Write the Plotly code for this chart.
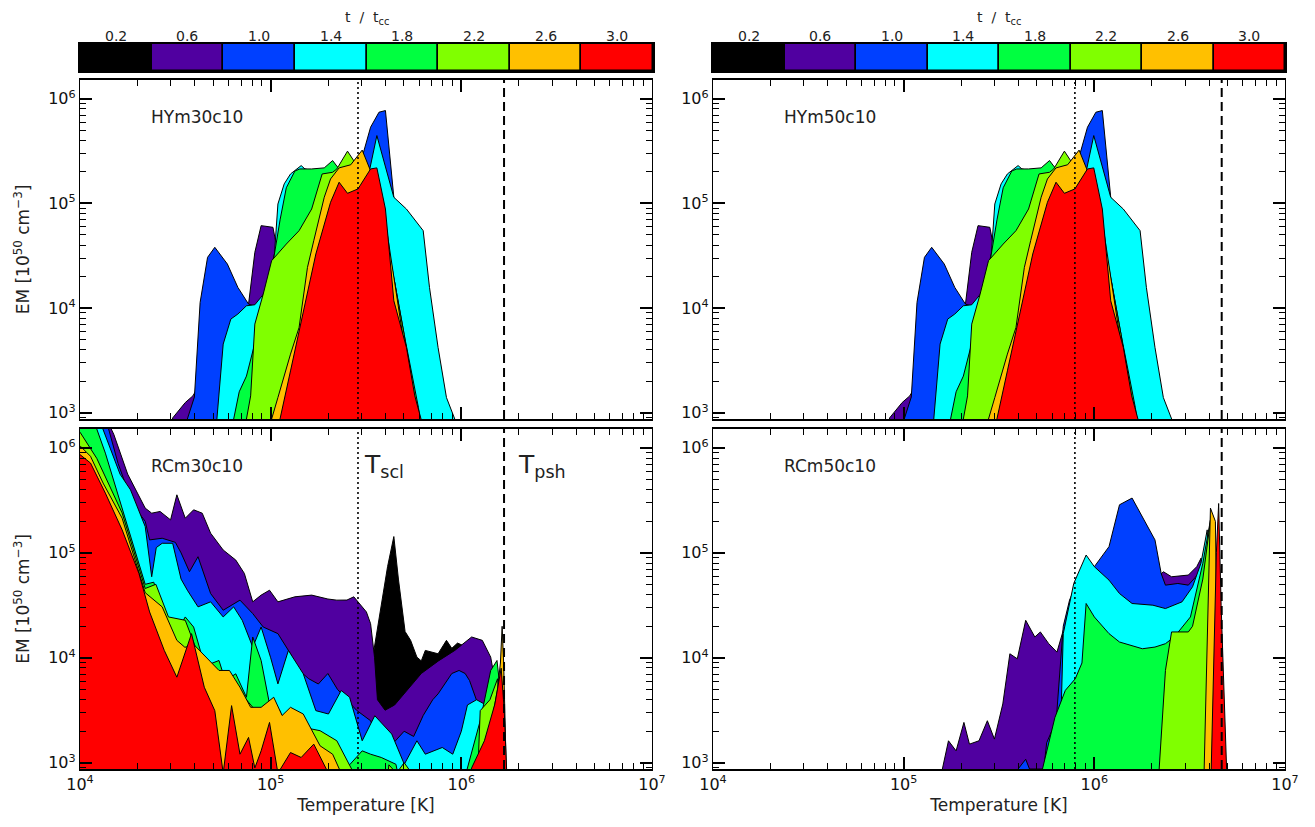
import plotly.graph_objects as go

FONT = "DejaVu Sans"
COLORS = ["#000000", "#5000A0", "#0040FF", "#00FFFF", "#00FF40", "#80FF00", "#FFC000", "#FF0000"]
CB_LABELS = ["0.2", "0.6", "1.0", "1.4", "1.8", "2.2", "2.6", "3.0"]
X_TICKS = [1e4, 1e5, 1e6, 1e7]
X_TICKTEXT = ["10<sup>4</sup>", "10<sup>5</sup>", "10<sup>6</sup>", "10<sup>7</sup>"]
Y_TICKS = [1e3, 1e4, 1e5, 1e6]
Y_TICKTEXT = ["10<sup>3</sup>", "10<sup>4</sup>", "10<sup>5</sup>", "10<sup>6</sup>"]

# characteristic temperatures (log10 K)
HY30_TSCL, HY30_TPSH = 5.458, 6.224
HY50_TSCL, HY50_TPSH = 5.898, 6.668

# ---------------- HYm30c10 : log10 T , log10 EM ----------------
HY30_T_06 = [4.47, 4.486, 4.552, 4.592, 4.70, 4.80, 4.884, 4.917, 4.950, 5.012, 5.03, 5.10, 5.20, 5.40, 5.55, 5.65, 5.75]
HY30_EM_06 = [2.6, 2.95, 3.097, 3.161, 3.5, 3.8, 4.038, 4.533, 4.788, 4.772, 4.6, 5.0, 5.15, 5.25, 4.95, 4.0, 2.6]
HY30_T_10 = [4.55, 4.563, 4.600, 4.630, 4.669, 4.707, 4.773, 4.828, 4.884, 4.95, 5.10, 5.30, 5.45, 5.48, 5.524, 5.568, 5.602, 5.646, 5.75, 5.85, 5.90]
HY30_EM_10 = [2.6, 2.94, 3.15, 4.054, 4.485, 4.581, 4.421, 4.198, 4.038, 4.0, 4.5, 5.0, 5.25, 5.45, 5.729, 5.872, 5.888, 5.059, 4.65, 3.7, 2.6]
HY30_T_14 = [4.70, 4.718, 4.751, 4.791, 4.828, 4.873, 4.917, 4.97, 5.02, 5.038, 5.071, 5.104, 5.160, 5.18, 5.30, 5.45, 5.52, 5.557, 5.646, 5.712, 5.800, 5.833, 5.878, 5.922, 5.966, 5.98]
HY30_EM_14 = [2.6, 2.94, 3.656, 3.895, 3.943, 4.022, 4.032, 4.15, 4.52, 4.995, 5.187, 5.282, 5.362, 5.33, 5.28, 5.25, 5.33, 5.649, 5.059, 4.947, 4.740, 4.198, 3.624, 3.145, 2.938, 2.6]
HY30_T_18 = [4.79, 4.806, 4.835, 4.873, 4.95, 5.0, 5.05, 5.082, 5.127, 5.153, 5.215, 5.281, 5.325, 5.35, 5.45, 5.55, 5.65, 5.70, 5.775, 5.81]
HY30_EM_18 = [2.6, 2.94, 3.2, 3.35, 3.9, 4.3, 4.85, 5.15, 5.31, 5.33, 5.33, 5.34, 5.41, 5.35, 5.25, 4.95, 4.25, 3.75, 3.05, 2.6]
HY30_T_22 = [4.86, 4.873, 4.895, 4.917, 4.961, 5.005, 5.082, 5.149, 5.215, 5.270, 5.325, 5.347, 5.403, 5.447, 5.50, 5.60, 5.70, 5.76, 5.79]
HY30_EM_22 = [2.6, 2.94, 3.161, 3.847, 4.134, 4.453, 4.612, 4.740, 4.947, 5.282, 5.298, 5.33, 5.50, 5.378, 5.15, 4.75, 3.75, 3.05, 2.6]
HY30_T_26 = [4.99, 5.005, 5.038, 5.104, 5.149, 5.193, 5.226, 5.281, 5.314, 5.359, 5.42, 5.48, 5.52, 5.60, 5.70, 5.77, 5.79]
HY30_EM_26 = [2.6, 2.94, 3.145, 3.560, 3.815, 4.389, 4.644, 5.059, 5.234, 5.34, 5.37, 5.51, 5.33, 4.85, 3.65, 2.95, 2.6]
HY30_T_30 = [5.03, 5.049, 5.104, 5.171, 5.237, 5.314, 5.359, 5.403, 5.458, 5.524, 5.557, 5.602, 5.646, 5.712, 5.756, 5.789, 5.80]
HY30_EM_30 = [2.6, 2.94, 3.400, 3.974, 4.517, 5.011, 5.203, 5.097, 5.139, 5.33, 5.34, 4.947, 4.070, 3.624, 3.161, 2.938, 2.6]

# ---------------- HYm50c10 ----------------
HY50_T_06 = [4.91, 4.926, 4.992, 5.032, 5.14, 5.24, 5.324, 5.357, 5.39, 5.452, 5.47, 5.54, 5.64, 5.84, 5.99, 6.09, 6.19]
HY50_EM_06 = [2.6, 2.95, 3.097, 3.161, 3.5, 3.8, 4.038, 4.533, 4.788, 4.772, 4.6, 5.0, 5.15, 5.25, 4.95, 4.0, 2.6]
HY50_T_10 = [4.99, 5.003, 5.04, 5.07, 5.109, 5.147, 5.213, 5.268, 5.324, 5.39, 5.54, 5.74, 5.89, 5.92, 5.964, 6.008, 6.042, 6.086, 6.19, 6.29, 6.34]
HY50_EM_10 = [2.6, 2.94, 3.15, 4.054, 4.485, 4.581, 4.421, 4.198, 4.038, 4.0, 4.5, 5.0, 5.25, 5.45, 5.729, 5.872, 5.888, 5.059, 4.65, 3.7, 2.6]
HY50_T_14 = [5.14, 5.158, 5.191, 5.231, 5.268, 5.313, 5.357, 5.41, 5.46, 5.478, 5.511, 5.544, 5.60, 5.62, 5.74, 5.89, 5.96, 5.997, 6.086, 6.152, 6.24, 6.273, 6.318, 6.362, 6.406, 6.42]
HY50_EM_14 = [2.6, 2.94, 3.656, 3.895, 3.943, 4.022, 4.032, 4.15, 4.52, 4.995, 5.187, 5.282, 5.362, 5.33, 5.28, 5.25, 5.33, 5.649, 5.059, 4.947, 4.740, 4.198, 3.624, 3.145, 2.938, 2.6]
HY50_T_18 = [5.23, 5.246, 5.275, 5.313, 5.39, 5.44, 5.49, 5.522, 5.567, 5.593, 5.655, 5.721, 5.765, 5.79, 5.89, 5.99, 6.09, 6.14, 6.215, 6.25]
HY50_EM_18 = [2.6, 2.94, 3.2, 3.35, 3.9, 4.3, 4.85, 5.15, 5.31, 5.33, 5.33, 5.34, 5.41, 5.35, 5.25, 4.95, 4.25, 3.75, 3.05, 2.6]
HY50_T_22 = [5.30, 5.313, 5.335, 5.357, 5.401, 5.445, 5.522, 5.589, 5.655, 5.71, 5.765, 5.787, 5.843, 5.887, 5.94, 6.04, 6.14, 6.20, 6.23]
HY50_EM_22 = [2.6, 2.94, 3.161, 3.847, 4.134, 4.453, 4.612, 4.740, 4.947, 5.282, 5.298, 5.33, 5.50, 5.378, 5.15, 4.75, 3.75, 3.05, 2.6]
HY50_T_26 = [5.43, 5.445, 5.478, 5.544, 5.589, 5.633, 5.666, 5.721, 5.754, 5.799, 5.86, 5.92, 5.96, 6.04, 6.14, 6.21, 6.23]
HY50_EM_26 = [2.6, 2.94, 3.145, 3.560, 3.815, 4.389, 4.644, 5.059, 5.234, 5.34, 5.37, 5.51, 5.33, 4.85, 3.65, 2.95, 2.6]
HY50_T_30 = [5.47, 5.489, 5.544, 5.611, 5.677, 5.754, 5.799, 5.843, 5.898, 5.964, 5.997, 6.042, 6.086, 6.152, 6.196, 6.229, 6.24]
HY50_EM_30 = [2.6, 2.94, 3.400, 3.974, 4.517, 5.011, 5.203, 5.097, 5.139, 5.33, 5.34, 4.947, 4.070, 3.624, 3.161, 2.938, 2.6]

# ---------------- RCm30c10 ----------------
RC30_T_02 = [5.45, 5.50, 5.542, 5.58, 5.613, 5.646, 5.67, 5.705, 5.734, 5.767, 5.79, 5.811, 5.85, 5.878, 5.922, 5.95, 5.98, 6.03, 6.10, 6.20, 6.24]
RC30_EM_02 = [2.6, 3.5, 4.077, 4.5, 4.868, 5.155, 4.75, 4.25, 4.166, 4.006, 3.97, 4.070, 4.05, 4.038, 4.166, 4.09, 4.14, 4.10, 3.5, 3.0, 2.6]
RC30_T_06 = [4.0, 4.177, 4.25, 4.342, 4.376, 4.420, 4.475, 4.508, 4.552, 4.596, 4.641, 4.685, 4.751, 4.817, 4.862, 4.906, 4.950, 4.994, 5.038, 5.127, 5.215, 5.30, 5.347, 5.40, 5.436, 5.502, 5.524, 5.545, 5.56, 5.60, 5.65, 5.70, 5.79, 5.88, 5.966, 6.054, 6.110, 6.154, 6.176, 6.20, 6.22]
RC30_EM_06 = [6.8, 6.13, 5.75, 5.426, 5.378, 5.394, 5.314, 5.553, 5.330, 5.410, 5.378, 5.187, 5.027, 4.931, 4.804, 4.533, 4.597, 4.644, 4.533, 4.581, 4.597, 4.56, 4.549, 4.55, 4.581, 4.437, 4.325, 4.0, 3.6, 3.5, 3.55, 3.66, 3.85, 3.97, 4.07, 4.198, 4.166, 4.006, 3.783, 3.3, 2.6]
RC30_T_10 = [4.0, 4.15, 4.20, 4.28, 4.342, 4.365, 4.431, 4.50, 4.530, 4.574, 4.619, 4.685, 4.751, 4.839, 4.906, 4.961, 5.038, 5.104, 5.149, 5.20, 5.25, 5.30, 5.35, 5.40, 5.45, 5.524, 5.56, 5.60, 5.65, 5.70, 5.75, 5.80, 5.85, 5.878, 5.95, 5.988, 6.02, 6.043, 6.08, 6.099, 6.15, 6.20, 6.22]
RC30_EM_10 = [6.6, 6.18, 5.85, 5.45, 5.30, 5.123, 5.139, 5.10, 5.0, 4.820, 4.963, 4.612, 4.453, 4.549, 4.421, 4.293, 4.230, 4.038, 3.879, 3.80, 3.75, 3.85, 3.70, 3.60, 3.5, 3.400, 3.25, 3.32, 3.2, 3.30, 3.25, 3.45, 3.60, 3.656, 3.85, 3.879, 3.85, 3.783, 3.6, 3.496, 3.4, 3.0, 2.6]
RC30_T_14 = [4.0, 4.12, 4.21, 4.265, 4.342, 4.376, 4.400, 4.431, 4.486, 4.530, 4.563, 4.619, 4.685, 4.751, 4.806, 4.851, 4.906, 4.950, 5.0, 5.038, 5.093, 5.171, 5.237, 5.303, 5.37, 5.414, 5.480, 5.546, 5.635, 5.701, 5.767, 5.811, 5.900, 5.955, 6.0, 6.032, 6.08, 6.13, 6.17, 6.20, 6.22]
RC30_EM_14 = [6.5, 6.18, 5.75, 5.60, 5.25, 4.772, 5.05, 5.091, 5.091, 4.75, 4.644, 4.485, 4.533, 4.389, 4.485, 4.357, 4.102, 4.293, 4.0, 3.751, 4.070, 3.847, 3.496, 3.464, 3.688, 3.624, 3.209, 3.448, 3.273, 2.985, 3.209, 3.081, 3.145, 3.081, 3.3, 3.55, 3.60, 3.55, 3.4, 3.0, 2.6]
RC30_T_18 = [4.0, 4.088, 4.133, 4.221, 4.31, 4.342, 4.387, 4.442, 4.508, 4.552, 4.596, 4.641, 4.685, 4.729, 4.762, 4.817, 4.873, 4.906, 4.950, 4.994, 5.049, 5.082, 5.127, 5.193, 5.259, 5.347, 5.414, 5.480, 5.524, 5.58, 5.657, 5.70, 5.98, 6.032, 6.099, 6.154, 6.187, 6.21, 6.23]
RC30_EM_18 = [6.4, 6.18, 5.95, 5.42, 4.9, 4.70, 4.72, 4.357, 4.25, 4.389, 4.293, 4.006, 3.943, 3.974, 3.783, 3.847, 3.624, 4.198, 3.974, 3.560, 3.496, 3.305, 3.400, 3.209, 3.129, 3.049, 2.98, 3.113, 3.081, 3.05, 2.985, 2.6, 2.6, 2.95, 3.40, 3.879, 3.974, 3.6, 2.6]
RC30_T_22 = [4.0, 4.088, 4.221, 4.342, 4.398, 4.464, 4.552, 4.619, 4.707, 4.784, 4.862, 4.906, 4.994, 5.082, 5.171, 5.259, 5.347, 5.392, 5.436, 5.46, 5.60, 5.62, 5.66, 5.70, 5.74, 5.76, 6.08, 6.099, 6.15, 6.19, 6.22, 6.24]
RC30_EM_22 = [6.15, 5.9, 5.38, 4.66, 4.70, 4.389, 4.357, 4.038, 3.911, 3.719, 3.624, 3.528, 3.40, 3.464, 3.337, 3.305, 3.209, 3.049, 2.9, 2.6, 2.6, 2.98, 2.9, 3.0, 2.9, 2.6, 2.6, 3.496, 3.6, 3.8, 3.2, 2.6]
RC30_T_26 = [4.0, 4.055, 4.121, 4.221, 4.342, 4.431, 4.508, 4.55, 4.60, 4.663, 4.729, 4.784, 4.839, 4.895, 4.95, 5.016, 5.06, 5.104, 5.171, 5.259, 5.325, 5.37, 5.40, 6.12, 6.16, 6.19, 6.205, 6.214, 6.222, 6.24]
RC30_EM_26 = [6.02, 5.92, 5.665, 5.33, 4.62, 4.485, 4.166, 4.10, 4.12, 4.006, 3.879, 3.879, 3.719, 3.528, 3.528, 3.624, 3.45, 3.528, 3.464, 3.161, 3.081, 2.9, 2.6, 2.6, 3.4, 3.7, 3.95, 4.30, 3.95, 2.6]
RC30_T_30 = [4.0, 4.055, 4.133, 4.221, 4.309, 4.365, 4.442, 4.508, 4.585, 4.652, 4.707, 4.751, 4.795, 4.839, 4.884, 4.917, 4.950, 4.994, 5.038, 5.104, 5.16, 5.226, 5.303, 5.32, 6.03, 6.054, 6.121, 6.176, 6.209, 6.225, 6.245]
RC30_EM_30 = [5.936, 5.856, 5.569, 5.219, 4.804, 4.437, 4.070, 3.815, 4.230, 3.719, 3.496, 2.90, 3.544, 3.081, 3.241, 2.95, 3.113, 3.384, 2.90, 3.097, 3.05, 3.177, 2.90, 2.6, 2.6, 2.95, 3.209, 3.560, 3.90, 3.5, 2.6]

# ---------------- RCm50c10 ----------------
RC50_T_06 = [5.19, 5.203, 5.235, 5.275, 5.316, 5.345, 5.395, 5.439, 5.476, 5.520, 5.557, 5.596, 5.640, 5.688, 5.717, 5.761, 5.804, 5.837, 5.9, 6.0, 6.2, 6.34, 6.362, 6.405, 6.493, 6.537, 6.56, 6.58, 6.60]
RC50_EM_06 = [2.6, 2.94, 3.209, 3.113, 3.384, 3.177, 3.209, 3.400, 3.225, 3.560, 4.038, 3.990, 4.357, 4.198, 4.246, 4.134, 4.054, 4.261, 4.5, 4.7, 4.75, 4.78, 4.820, 4.772, 4.788, 4.868, 4.95, 4.0, 2.6]
RC50_T_10 = [5.58, 5.60, 5.640, 5.66, 5.70, 5.735, 5.75, 5.80, 5.837, 5.87, 5.93, 5.96, 6.0, 6.077, 6.132, 6.198, 6.318, 6.351, 6.373, 6.438, 6.493, 6.548, 6.58, 6.60, 6.62]
RC50_EM_10 = [2.6, 2.94, 3.033, 2.94, 2.94, 2.94, 3.19, 3.4, 4.3, 4.55, 4.80, 4.82, 4.868, 5.059, 5.458, 5.522, 5.123, 4.80, 4.692, 4.708, 4.692, 4.804, 5.0, 4.0, 2.6]
RC50_T_14 = [5.80, 5.826, 5.837, 5.859, 5.892, 5.957, 6.0, 6.077, 6.132, 6.198, 6.307, 6.373, 6.460, 6.515, 6.559, 6.592, 6.61, 6.63]
RC50_EM_14 = [2.6, 3.496, 4.230, 4.421, 4.708, 4.979, 4.868, 4.740, 4.612, 4.517, 4.501, 4.469, 4.533, 4.676, 4.900, 5.219, 4.5, 2.6]
RC50_T_18 = [5.72, 5.728, 5.793, 5.848, 5.90, 5.935, 5.957, 6.0, 6.077, 6.132, 6.252, 6.318, 6.373, 6.42, 6.504, 6.569, 6.609, 6.62, 6.63]
RC50_EM_18 = [2.6, 2.94, 3.43, 3.69, 3.80, 3.95, 4.517, 4.389, 4.230, 4.150, 4.086, 4.102, 4.134, 4.2, 4.389, 4.900, 5.314, 4.5, 2.6]
RC50_T_22 = [6.33, 6.340, 6.373, 6.405, 6.493, 6.515, 6.569, 6.602, 6.612, 6.62, 6.63]
RC50_EM_22 = [2.6, 2.94, 3.879, 4.246, 4.246, 4.30, 4.75, 5.25, 5.35, 4.0, 2.6]
RC50_T_26 = [6.57, 6.576, 6.609, 6.635, 6.645, 6.650]
RC50_EM_26 = [2.6, 2.94, 5.426, 5.30, 4.0, 2.6]
RC50_T_30 = [6.605, 6.613, 6.640, 6.652, 6.665, 6.690, 6.70]
RC50_EM_30 = [2.6, 2.94, 5.0, 5.47, 4.5, 2.94, 2.6]

FLOOR = 0.0  # log10 EM used to close each polygon far below the axis

PANELS = [
    ("x", "y", "HYm30c10", HY30_TSCL, HY30_TPSH, [
        (1, HY30_T_06, HY30_EM_06), (2, HY30_T_10, HY30_EM_10), (3, HY30_T_14, HY30_EM_14),
        (4, HY30_T_18, HY30_EM_18), (5, HY30_T_22, HY30_EM_22), (6, HY30_T_26, HY30_EM_26),
        (7, HY30_T_30, HY30_EM_30)]),
    ("x2", "y2", "HYm50c10", HY50_TSCL, HY50_TPSH, [
        (1, HY50_T_06, HY50_EM_06), (2, HY50_T_10, HY50_EM_10), (3, HY50_T_14, HY50_EM_14),
        (4, HY50_T_18, HY50_EM_18), (5, HY50_T_22, HY50_EM_22), (6, HY50_T_26, HY50_EM_26),
        (7, HY50_T_30, HY50_EM_30)]),
    ("x3", "y3", "RCm30c10", HY30_TSCL, HY30_TPSH, [
        (0, RC30_T_02, RC30_EM_02), (1, RC30_T_06, RC30_EM_06), (2, RC30_T_10, RC30_EM_10),
        (3, RC30_T_14, RC30_EM_14), (4, RC30_T_18, RC30_EM_18), (5, RC30_T_22, RC30_EM_22),
        (6, RC30_T_26, RC30_EM_26), (7, RC30_T_30, RC30_EM_30)]),
    ("x4", "y4", "RCm50c10", HY50_TSCL, HY50_TPSH, [
        (1, RC50_T_06, RC50_EM_06), (2, RC50_T_10, RC50_EM_10), (3, RC50_T_14, RC50_EM_14),
        (4, RC50_T_18, RC50_EM_18), (5, RC50_T_22, RC50_EM_22), (6, RC50_T_26, RC50_EM_26),
        (7, RC50_T_30, RC50_EM_30)]),
]

# the page has an 8px body margin: the figure is the window less that margin
PAD = 8
W, H = 1315 - 2 * PAD, 827 - 2 * PAD


def fx(px):
    return (px - PAD) / W


def fy(py):
    return 1 - (py - PAD) / H


XDOM_L = [fx(80), fx(652)]
XDOM_R = [fx(713), fx(1285)]
YDOM_T = [fy(419), fy(80)]
YDOM_B = [fy(769), fy(429)]
YDOM_CB = [fy(71), fy(44)]

fig = go.Figure()

for xa, ya, name, tscl, tpsh, series in PANELS:
    for ci, lt, le in series:
        xs = [10 ** t for t in lt] + [10 ** lt[-1], 10 ** lt[0]]
        ys = [10 ** e for e in le] + [10 ** FLOOR, 10 ** FLOOR]
        fig.add_trace(go.Scatter(x=xs, y=ys, mode="lines", fill="toself",
                                 fillcolor=COLORS[ci], line=dict(color="black", width=1),
                                 xaxis=xa, yaxis=ya, showlegend=False, hoverinfo="skip"))
    yref = ya + " domain"
    fig.add_shape(type="line", xref=xa, yref=yref, x0=10 ** tscl, x1=10 ** tscl, y0=0, y1=1,
                  line=dict(color="black", width=1.6, dash="2px,3px"))
    fig.add_shape(type="line", xref=xa, yref=yref, x0=10 ** tpsh, x1=10 ** tpsh, y0=0, y1=1,
                  line=dict(color="black", width=2, dash="9px,5px"))
    fig.add_annotation(x=0.12, y=0.89, xref=xa + " domain", yref=ya + " domain", text=name,
                       showarrow=False, xanchor="left", yanchor="middle",
                       font=dict(family=FONT, size=17, color="#222222"))

# T_scl and T_psh labels in the lower-left panel
fig.add_annotation(x=0.493, y=0.89, xref="x3 domain", yref="y3 domain", text="T<sub>scl</sub>",
                   showarrow=False, xanchor="left", yanchor="middle",
                   font=dict(family=FONT, size=25, color="#222222"))
fig.add_annotation(x=0.762, y=0.89, xref="x3 domain", yref="y3 domain", text="T<sub>psh</sub>",
                   showarrow=False, xanchor="left", yanchor="middle",
                   font=dict(family=FONT, size=25, color="#222222"))

# colour bars
CB_POS = list(range(len(CB_LABELS)))
for xa, ya in (("x5", "y5"), ("x6", "y6")):
    fig.add_trace(go.Bar(x=CB_POS, y=[1] * len(CB_POS), width=1,
                         marker=dict(color=COLORS, line=dict(color="black", width=1.5)),
                         xaxis=xa, yaxis=ya, showlegend=False, hoverinfo="skip"))
    for pos, lab in zip(CB_POS, CB_LABELS):
        fig.add_annotation(x=pos, y=fy(36), xref=xa, yref="paper", text=lab,
                           showarrow=False, xanchor="center", yanchor="middle", borderpad=0,
                           font=dict(family=FONT, size=14, color="#222222"))

XMINOR = [k * 10 ** d for d in (4, 5, 6) for k in range(2, 10)]
YMINOR = [k * 10 ** d for d in (2, 3, 4, 5, 6) for k in range(2, 10)]


def xaxis(domain, anchor, labels):
    d = dict(domain=domain, anchor=anchor, type="log", range=[4, 7], automargin=False,
             tickvals=X_TICKS, ticktext=X_TICKTEXT, showticklabels=labels,
             ticks="inside", ticklen=12, tickwidth=1.5, tickcolor="black",
             showline=True, linecolor="black", linewidth=2, mirror="ticks",
             showgrid=False, zeroline=False,
             minor=dict(ticks="inside", ticklen=6, tickwidth=1, tickcolor="black",
                        tickvals=XMINOR, showgrid=False),
             tickfont=dict(family=FONT, size=16, color="#111111"))
    if labels:
        d["title"] = dict(text="Temperature [K]", font=dict(family=FONT, size=17, color="#222222"),
                          standoff=6)
    return d


def yaxis(domain, anchor, title):
    d = dict(domain=domain, anchor=anchor, type="log", range=[2.94, 6.18], automargin=False,
             tickvals=Y_TICKS, ticktext=Y_TICKTEXT,
             ticks="inside", ticklen=12, tickwidth=1.5, tickcolor="black",
             showline=True, linecolor="black", linewidth=1.3, mirror="ticks",
             showgrid=False, zeroline=False,
             minor=dict(ticks="inside", ticklen=6, tickwidth=1, tickcolor="black",
                        tickvals=YMINOR, showgrid=False),
             tickfont=dict(family=FONT, size=16, color="#111111"))
    if title:
        d["title"] = dict(text="EM [10<sup>50</sup> cm<sup>\u22123</sup>]",
                          font=dict(family=FONT, size=17, color="#222222"), standoff=14)
    return d


def cbx(domain, anchor):
    return dict(domain=domain, anchor=anchor, range=[-0.5, 7.5], automargin=False,
                showticklabels=False, ticks="", showline=True,
                linecolor="black", linewidth=1.5, mirror=True, showgrid=False, zeroline=False,
                fixedrange=True)


def cby(domain, anchor):
    return dict(domain=domain, anchor=anchor, range=[0, 1], showticklabels=False, ticks="",
                showline=True, linecolor="black", linewidth=1.5, mirror=True, automargin=False,
                showgrid=False, zeroline=False, fixedrange=True)


fig.update_layout(
    width=W, height=H, margin=dict(l=0, r=0, t=0, b=0, autoexpand=False),
    paper_bgcolor="white", plot_bgcolor="white", showlegend=False, bargap=0,
    font=dict(family=FONT, color="#222222"),
    xaxis=xaxis(XDOM_L, "y", False), yaxis=yaxis(YDOM_T, "x", True),
    xaxis2=xaxis(XDOM_R, "y2", False), yaxis2=yaxis(YDOM_T, "x2", False),
    xaxis3=xaxis(XDOM_L, "y3", True), yaxis3=yaxis(YDOM_B, "x3", True),
    xaxis4=xaxis(XDOM_R, "y4", True), yaxis4=yaxis(YDOM_B, "x4", False),
    xaxis5=cbx([fx(80), fx(653)], "y5"), yaxis5=cby(YDOM_CB, "x5"),
    xaxis6=cbx([fx(713), fx(1285)], "y6"), yaxis6=cby(YDOM_CB, "x6"),
)

for xc in ((fx(80) + fx(653)) / 2, (fx(713) + fx(1285)) / 2):
    fig.add_annotation(x=xc, y=1.0, xref="paper", yref="paper",
                       text="t  /  t<sub>cc</sub>", showarrow=False,
                       xanchor="center", yanchor="top", borderpad=0,
                       font=dict(family=FONT, size=14, color="#222222"))

fig.write_html("out.html")
